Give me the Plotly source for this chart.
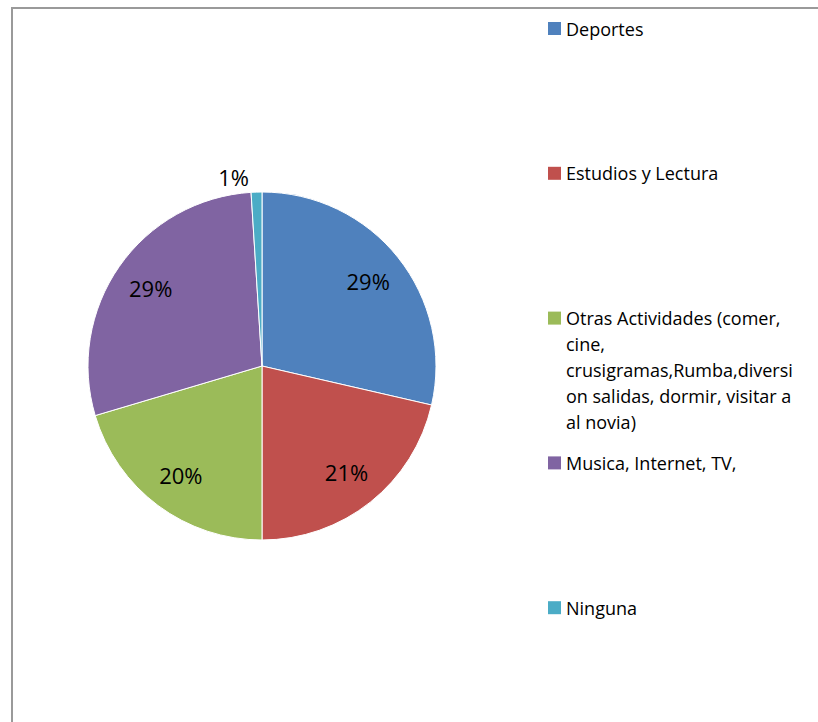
import plotly.graph_objects as go

# Time use survey: share of answers per activity
categories = [
    "Deportes",
    "Estudios y Lectura",
    "Otras Actividades (comer, cine, crusigramas,Rumba,diversion salidas, dormir, visitar a al novia)",
    "Musica, Internet, TV,",
    "Ninguna",
]
values = [28.6, 21.4, 20.4, 28.6, 1.0]
colors = ["#4F81BD", "#C0504D", "#9BBB59", "#8064A2", "#4BACC6"]
# legend text, wrapped the way it is shown beside the pie
legend_lines = [
    ["Deportes"],
    ["Estudios y Lectura"],
    ["Otras Actividades (comer,", "cine,", "crusigramas,Rumba,diversi",
     "on salidas, dormir, visitar a", "al novia)"],
    ["Musica, Internet, TV,"],
    ["Ninguna"],
]

W, H = 818, 722
FONT = "Open Sans"
domain = dict(x=[88 / W, 436 / W], y=[1 - 540 / H, 1 - 192 / H])

fig = go.Figure()
# the coloured pie itself
fig.add_trace(go.Pie(
    labels=categories, values=values, sort=False,
    direction="clockwise", rotation=0,
    marker=dict(colors=colors, line=dict(color="white", width=1)),
    textinfo="none", showlegend=False,
    hoverinfo="label+percent", domain=domain,
))
# transparent ring on top that carries the percentage labels, so they sit
# in the outer part of each slice
fig.add_trace(go.Pie(
    labels=categories, values=values, sort=False,
    direction="clockwise", rotation=0, hole=0.56,
    marker=dict(colors=["rgba(0,0,0,0)"] * len(values), line=dict(width=0)),
    texttemplate="%{percent:.0%}",
    textposition=["inside", "inside", "inside", "inside", "outside"],
    insidetextorientation="horizontal",
    textfont=dict(family=FONT, size=22, color="black"),
    showlegend=False, hoverinfo="skip", domain=domain,
))

# chart frame
shapes = [
    dict(type="rect", xref="paper", yref="paper",
         x0=12 / W, y0=1 - 8 / H, x1=1.05, y1=-0.05,
         line=dict(color="#9a9a9a", width=2), fillcolor="rgba(0,0,0,0)",
         layer="below"),
]
annotations = []

# legend: colour square + text, items evenly spaced down the right side
item_y0, item_step, line_h = 28.5, 144.8, 26
for i, (lines, col) in enumerate(zip(legend_lines, colors)):
    cy = item_y0 + i * item_step
    shapes.append(dict(type="rect", xref="paper", yref="paper",
                       x0=548 / W, x1=561 / W,
                       y0=1 - (cy - 6.5) / H, y1=1 - (cy + 6.5) / H,
                       fillcolor=col, line=dict(width=0)))
    for j, txt in enumerate(lines):
        annotations.append(dict(
            xref="paper", yref="paper", x=564 / W, y=1 - (cy + j * line_h) / H,
            xanchor="left", yanchor="middle", text=txt, showarrow=False,
            font=dict(family=FONT, size=18, color="black")))

fig.update_layout(
    width=W, height=H,
    margin=dict(l=0, r=0, t=0, b=0),
    paper_bgcolor="white",
    plot_bgcolor="white",
    shapes=shapes,
    annotations=annotations,
)

fig.write_html("out.html")
